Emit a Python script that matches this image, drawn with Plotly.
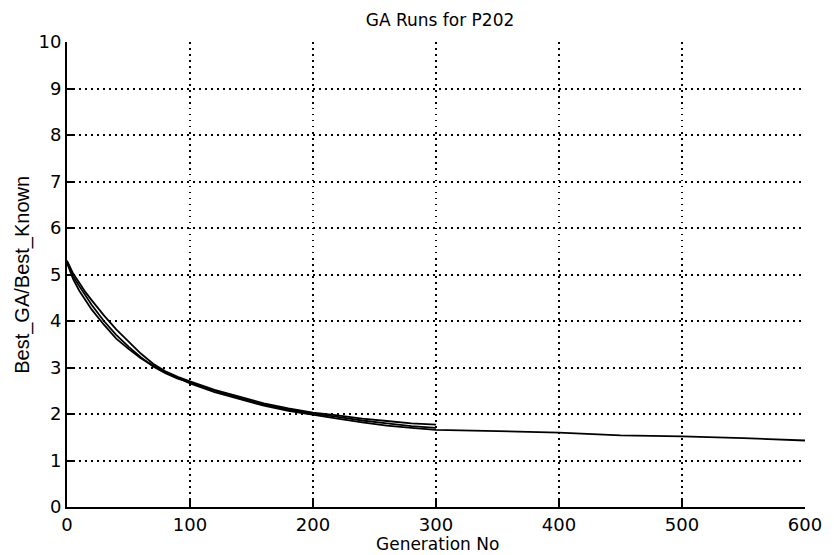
import plotly.graph_objects as go

gens_short = [0, 5, 10, 15, 20, 30, 40, 50, 60, 70, 80, 90, 100, 120, 140, 160, 180, 200, 220, 240, 260, 280, 300]
run_a = [5.30, 5.02, 4.82, 4.62, 4.45, 4.12, 3.82, 3.55, 3.30, 3.08, 2.92, 2.80, 2.70, 2.52, 2.37, 2.23, 2.12, 2.03, 1.97, 1.90, 1.85, 1.80, 1.77]
run_c = [5.28, 4.96, 4.75, 4.55, 4.35, 4.00, 3.70, 3.45, 3.22, 3.02, 2.88, 2.76, 2.68, 2.50, 2.35, 2.20, 2.10, 2.01, 1.94, 1.86, 1.80, 1.74, 1.70]
gens_long = gens_short + [320, 350, 400, 450, 500, 550, 600]
run_b = [5.25, 4.90, 4.65, 4.45, 4.25, 3.92, 3.62, 3.40, 3.20, 3.04, 2.90, 2.78, 2.66, 2.47, 2.32, 2.18, 2.07, 1.98, 1.90, 1.82, 1.75, 1.70, 1.66,
         1.65, 1.63, 1.60, 1.54, 1.52, 1.48, 1.43]

x_ticks = [0, 100, 200, 300, 400, 500, 600]
y_ticks = [0, 1, 2, 3, 4, 5, 6, 7, 8, 9, 10]

fig = go.Figure()
for xs, ys in [(gens_short, run_a), (gens_short, run_c), (gens_long, run_b)]:
    fig.add_trace(go.Scatter(x=xs, y=ys, mode="lines", line=dict(color="black", width=1.8), showlegend=False))

font_wide = "DejaVu Sans, Verdana, sans-serif"
font_narrow = "Liberation Sans Narrow, Arial Narrow, Liberation Sans, sans-serif"
tickfont = dict(size=18, family=font_wide, color="black")
fig.update_layout(
    width=834, height=555,
    margin=dict(l=67, r=24, t=42, b=48),
    paper_bgcolor="white", plot_bgcolor="white",
    title=dict(text="GA Runs for P202", x=440 / 834, xanchor="center", y=1 - 20 / 555, yref="container",
               yanchor="middle", font=dict(family=font_wide, size=17, color="black")),
    font=dict(family=font_wide, color="black"),
)
fig.update_xaxes(
    range=[0, 600], tickvals=x_ticks, ticktext=[str(v) for v in x_ticks],
    showline=True, linecolor="black", linewidth=1.8,
    ticks="inside", ticklen=7, tickcolor="black", tickwidth=1.5,
    showgrid=True, gridcolor="black", griddash="1.5px,4.5px", gridwidth=1.5,
    zeroline=False, tickfont=tickfont,
)
fig.update_yaxes(
    range=[0, 10], tickvals=y_ticks, ticktext=[str(v) for v in y_ticks],
    showline=True, linecolor="black", linewidth=1.8,
    ticks="inside", ticklen=7, tickcolor="black", tickwidth=1.5,
    showgrid=True, gridcolor="black", griddash="1.5px,4.5px", gridwidth=1.5,
    zeroline=False, tickfont=tickfont,
)
fig.add_annotation(text="Generation No", xref="paper", yref="paper", x=(440 - 67) / 743, y=-(544 - 507) / 465,
                   xanchor="center", yanchor="middle", showarrow=False,
                   font=dict(family=font_wide, size=17, color="black"))
fig.add_annotation(text="Best_GA/Best_Known", xref="paper", yref="paper", x=-(67 - 22) / 743, y=0.5,
                   xanchor="center", yanchor="middle", textangle=-90, showarrow=False,
                   font=dict(family=font_narrow, size=20, color="black"))
fig.write_html("out.html")
